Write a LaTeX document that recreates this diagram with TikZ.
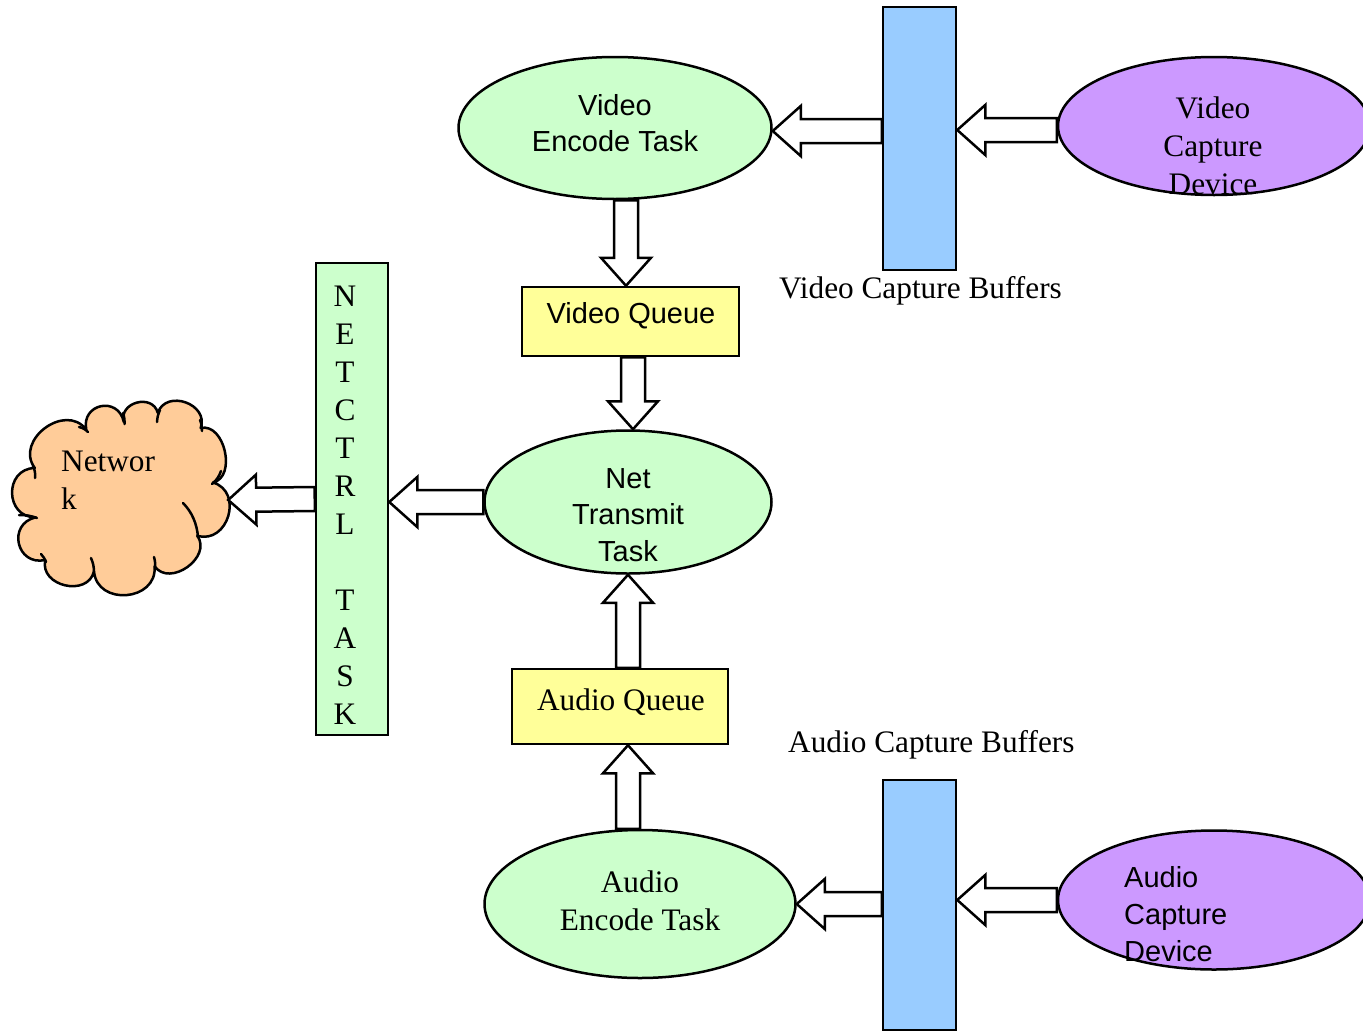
\documentclass[tikz,border=0pt]{standalone}
\usepackage{fontspec}
\setmainfont{Liberation Serif}
\newfontfamily\arialfont{Liberation Sans}
\usetikzlibrary{calc,shapes.geometric}

\definecolor{taskgreen}{HTML}{CCFFCC}
\definecolor{bufblue}{HTML}{99CCFF}
\definecolor{devpurple}{HTML}{CC99FF}
\definecolor{queueyellow}{HTML}{FFFF99}
\definecolor{netorange}{HTML}{FFCC99}

\tikzset{
  outline/.style={draw=black, line width=2.5pt},
  taskell/.style={outline, ellipse, fill=taskgreen, inner sep=0pt},
  devell/.style={outline, ellipse, fill=devpurple, inner sep=0pt},
  bufbox/.style={outline, rectangle, fill=bufblue, inner sep=0pt},
  queuebox/.style={outline, rectangle, fill=queueyellow, inner sep=0pt},
  ctrlbox/.style={outline, rectangle, fill=taskgreen, inner sep=0pt},
  sanstext/.style={inner sep=0pt, align=center, font=\arialfont\fontsize{29}{36.7}\selectfont},
  seriftext/.style={inner sep=0pt, align=center, font=\fontsize{31.3}{38}\selectfont},
  hollowarrow/.style={draw=black, line width=2.5pt, fill=white, line join=miter},
  cloudline/.style={draw=black, line width=2.5pt, line cap=round},
}

% hollow block arrow from #1 to #2 (tip at #2)
\newcommand\blockarrow[2]{%
  \draw[hollowarrow] let \p1=#1, \p2=#2,
    \n1={veclen(\x2-\x1,\y2-\y1)}, \n2={atan2(\y2-\y1,\x2-\x1)} in
    {[shift={(\p1)}, rotate=\n2]
      (0pt,-12pt) -- ({\n1*1pt-28pt},-12pt) -- ({\n1*1pt-28pt},-25pt)
      -- ({\n1*1pt},0pt) -- ({\n1*1pt-28pt},25pt) -- ({\n1*1pt-28pt},12pt)
      -- (0pt,12pt) -- cycle};
}
% one puff of the cloud outline, bulging outwards between two points
\newcommand\puff[3]{.. controls ($(#1)!#3!90:(#2)$) and ($(#2)!#3!-90:(#1)$) .. (#2)}

\begin{document}
\begin{tikzpicture}[x=1pt, y=-1pt]
\clip (0,0) rectangle (1363,1031);
\fill[white] (0,0) rectangle (1363,1031);

% tasks and devices
\node[taskell, minimum width=313pt, minimum height=142pt] (venc) at (615,128) {};
\node[devell, minimum width=312pt, minimum height=138pt] (vdev) at (1214,126) {};
\node[taskell, minimum width=287pt, minimum height=143pt] (ntx) at (628,502) {};
\node[taskell, minimum width=311pt, minimum height=148pt] (aenc) at (640,904) {};
\node[devell, minimum width=312pt, minimum height=139pt] (adev) at (1214,900) {};

% buffers and queues
\node[bufbox, minimum width=73pt, minimum height=263pt] (vbuf) at (919.5,138.5) {};
\node[bufbox, minimum width=73pt, minimum height=250pt] (abuf) at (919.5,905) {};
\node[queuebox, minimum width=217pt, minimum height=69pt] (vq) at (630.5,321.5) {};
\node[queuebox, minimum width=216pt, minimum height=75pt] (aq) at (620,706.5) {};
\node[ctrlbox, minimum width=72pt, minimum height=472pt] (nctrl) at (352,499) {};

% network cloud
\coordinate (j1) at (34.8,468);   \coordinate (j2) at (86.3,429.7);
\coordinate (j3) at (123.8,422);  \coordinate (j4) at (157.8,412.8);
\coordinate (j5) at (200.7,428);  \coordinate (j6) at (213,482.5);
\coordinate (j7) at (197.3,535.7); \coordinate (j8) at (154.6,566.3);
\coordinate (j9) at (94,571.2);   \coordinate (j10) at (45.3,560);
\coordinate (j11) at (35.9,517.3);
\draw[outline, fill=netorange, line join=round]
  (j1) \puff{j1}{j2}{0.54} \puff{j2}{j3}{0.7} \puff{j3}{j4}{0.58}
  \puff{j4}{j5}{0.56} \puff{j5}{j6}{0.44} \puff{j6}{j7}{0.58}
  \puff{j7}{j8}{0.5} \puff{j8}{j9}{0.58} \puff{j9}{j10}{0.54}
  \puff{j10}{j11}{0.68} \puff{j11}{j1}{0.63} -- cycle;
% inner folds of the cloud
\draw[cloudline] (33,466) to[bend left=15] (35,478);
\draw[cloudline] (79,427) to[bend left=15] (88,432);
\draw[cloudline] (123,413) to[bend left=10] (124.5,424);
\draw[cloudline] (160,410) to[bend right=10] (157,422);
\draw[cloudline] (200,420) to[bend left=10] (202,431);
\draw[cloudline] (221,471) to[bend left=15] (212,484);
\draw[cloudline] (183,503) .. controls (192,512) and (197,524) .. (198,537);
\draw[cloudline] (154,557) to[bend left=10] (155,568);
\draw[cloudline] (91,558) to[bend left=10] (94,571);
\draw[cloudline] (41,554) to[bend left=10] (46,562);
\draw[cloudline] (19,515) to[bend left=10] (37,518);
\node[ellipse, minimum width=216pt, minimum height=193pt, inner sep=0pt] (net) at (120,500) {};

% texts
\node[sanstext] (vencT) at (615,123) {Video\\Encode Task};
\node[seriftext] (vdevT) at (1213,146) {Video\\Capture\\Device};
\node[seriftext, anchor=base west] (vbufL) at (779,298) {Video Capture Buffers};
\node[sanstext, anchor=base] (vqT) at (631,323) {Video Queue};
\node[sanstext] (ntxT) at (628,515) {Net\\Transmit\\Task};
\node[seriftext] (nctrlT) at (345,505) {N\\E\\T\\C\\T\\R\\L\\\strut\\T\\A\\S\\K};
\node[seriftext, anchor=west, align=left] (netT) at (61,480.5) {Networ\\k};
\node[seriftext, anchor=base] (aqT) at (621,710) {Audio Queue};
\node[seriftext] (aencT) at (640,900.5) {Audio\\Encode Task};
\node[seriftext, anchor=base west] (abufL) at (788,752) {Audio Capture Buffers};
\node[sanstext, anchor=west, align=left] (adevT) at (1124,914) {Audio\\Capture\\Device};

% connection points
\coordinate (vdevout) at ([yshift=-4pt]vdev.west);
\coordinate (vencin) at ([yshift=-3pt]venc.east);
\coordinate (vqin) at ([xshift=-4.5pt]vq.north);
\coordinate (vqout) at ([xshift=2.5pt]vq.south);
\coordinate (aqin) at ([xshift=8pt]aq.south);

% data flow
\blockarrow{(vdevout)}{(vbuf.east |- vdevout)}
\blockarrow{(vbuf.west |- vencin)}{(vencin)}
\blockarrow{(vqin |- venc.south)}{(vqin)}
\blockarrow{(vqout)}{(vqout |- ntx.north)}
\blockarrow{(ntx.west)}{(nctrl.east |- ntx.west)}
\blockarrow{(nctrl.west)}{(net.east)}
\blockarrow{(adev.west)}{(abuf.east |- adev.west)}
\blockarrow{(abuf.west |- aenc.east)}{(aenc.east)}
\blockarrow{(aqin |- aenc.north)}{(aqin)}
\blockarrow{(aq.north -| ntx.south)}{(ntx.south)}
\end{tikzpicture}
\end{document}
